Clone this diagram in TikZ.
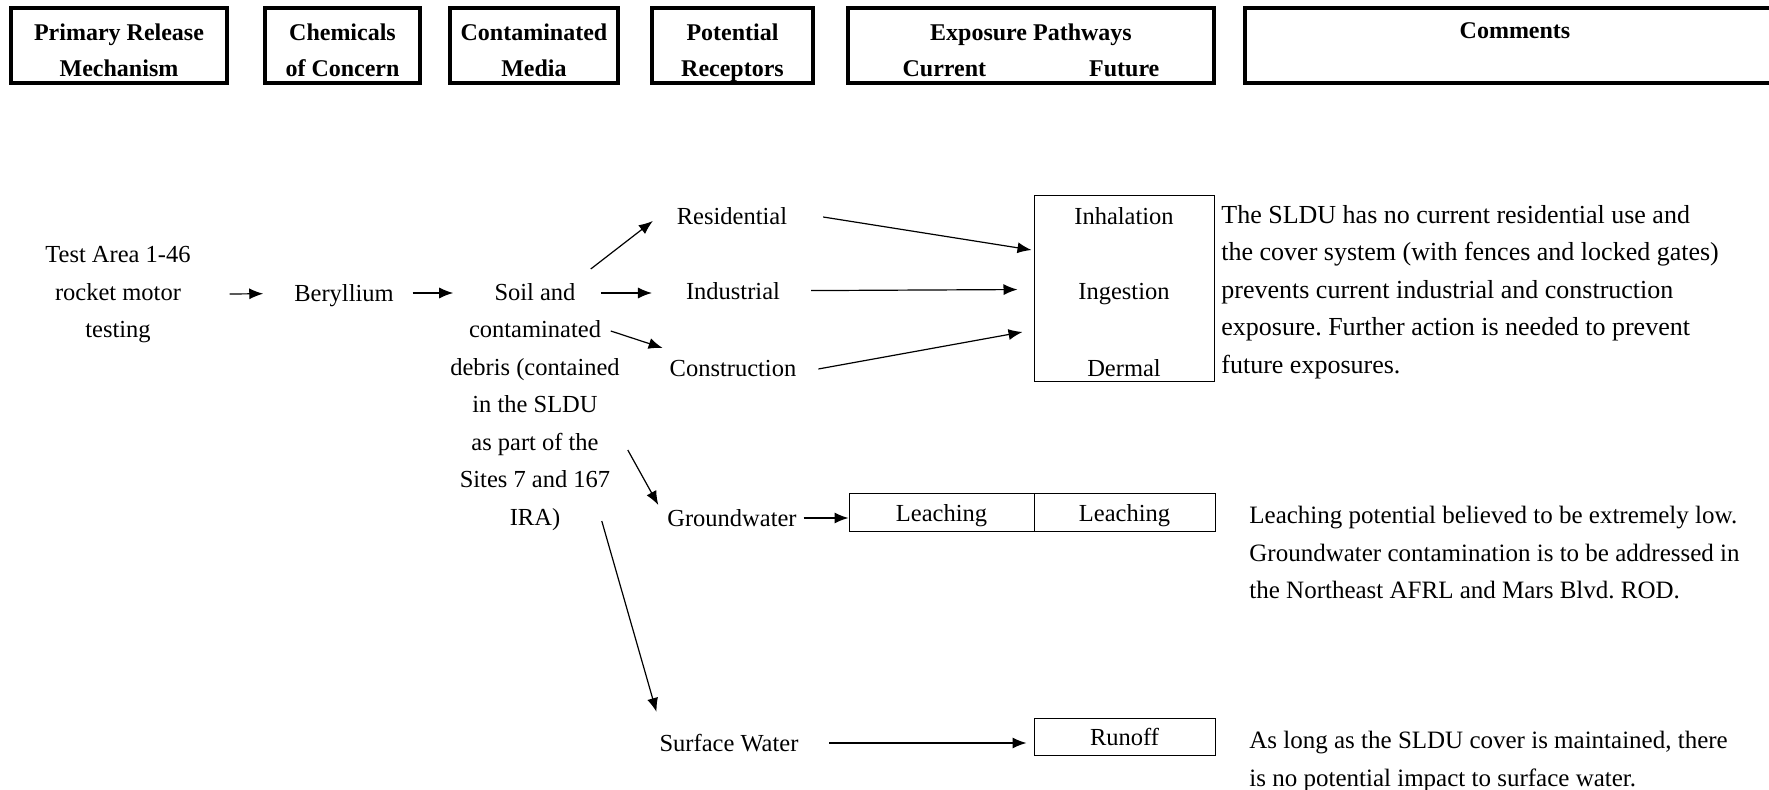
\documentclass[tikz,border=0pt]{standalone}
\usepackage{fontspec}
\setmainfont{Liberation Serif}
\usetikzlibrary{arrows.meta}
\frenchspacing

\newcommand{\diagfont}{\fontsize{12.25}{18.75}\selectfont}
\newcommand{\notefont}{\fontsize{12.5}{18.75}\selectfont}
\newcommand{\headfont}{\fontsize{12}{18}\selectfont\bfseries}
\newcommand{\hdtop}{\rule{0pt}{15.1pt}}
\newcommand{\hdbot}{\rule[-2.5pt]{0pt}{2.5pt}}

\tikzset{
  hdr/.style={draw, line width=1.6pt, font=\headfont, align=center, minimum height=37.5pt, inner sep=0pt},
  lbl/.style={font=\diagfont, text height=10.3pt, text depth=2pt},
  blk/.style={font=\diagfont, align=center},
  note/.style={font=\notefont, align=left, anchor=north west, inner sep=0pt},
  cell/.style={lbl, draw, line width=0.5pt, inner sep=0pt, minimum height=19pt},
  flow/.style={->, line width=0.6pt},
}

\begin{document}
\begin{tikzpicture}[x=0.5pt, y=-0.5pt, >={Latex[length=7pt,width=5.5pt]}]
\useasboundingbox (0,0) rectangle (1769,790);
% column headers
\node[hdr, minimum width=108pt] (h1) at (119,45.5) {\hdtop Primary Release\\Mechanism\hdbot};
\node[hdr, minimum width=77.5pt] (h2) at (342.5,45.5) {\hdtop Chemicals\\of Concern\hdbot};
\node[hdr, minimum width=84pt] (h3) at (534,45.5) {\hdtop Contaminated\\Media\hdbot};
\node[hdr, minimum width=80.5pt] (h4) at (732.5,45.5) {\hdtop Potential\\Receptors\hdbot};
\node[hdr, minimum width=183pt] (h5) at (1031,45.5) {\hdtop Exposure Pathways\\Current\hspace{51.5pt}Future\hdbot};
\draw[line width=1.6pt] (1769,8) -| (1245,83) -- (1769,83);
\node[font=\headfont, anchor=base] (h6) at (1515,39) {Comments};

% release chain
\node[blk] (test) at (118,295) {Test Area 1-46\\rocket motor\\testing};
\node[lbl] (beryl) at (344,293) {Beryllium};
\node[blk, anchor=north] (soil) at (535,276) {Soil and\\contaminated\\debris (contained\\in the SLDU\\as part of the\\Sites 7 and 167\\IRA)};

% receptors
\node[lbl] (res) at (732,216) {Residential};
\node[lbl] (ind) at (733,291) {Industrial};
\node[lbl] (con) at (733,368) {Construction};
\node[lbl] (gw) at (732,518) {Groundwater};
\node[lbl] (sw) at (729,743) {Surface Water};

% exposure pathways
\node[draw, line width=0.5pt, minimum width=90pt, minimum height=93pt] (expo) at (1124,289) {};
\node[lbl] (inh) at (1124,216) {Inhalation};
\node[lbl] (ing) at (1124,291) {Ingestion};
\node[lbl] (der) at (1124,368) {Dermal};
\node[cell, minimum width=92.5pt] (leachA) at (941.5,513) {Leaching};
\node[cell, minimum width=90.5pt] (leachB) at (1124.5,513) {Leaching};
\node[cell, minimum width=90.5pt, minimum height=18.5pt] (runoff) at (1124.5,737.5) {Runoff};

% comments
\node[note, font=\fontsize{13}{18.75}\selectfont] (c1) at (1221,205) {The SLDU has no current residential use and\\the cover system (with fences and locked gates)\\prevents current industrial and construction\\exposure. Further action is needed to prevent\\future exposures.};
\node[note] (c2) at (1249,506) {Leaching potential believed to be extremely low.\\Groundwater contamination is to be addressed in\\the Northeast AFRL and Mars Blvd. ROD.};
\node[note] (c3) at (1249,731) {As long as the SLDU cover is maintained, there\\is no potential impact to surface water.};

% arrows
\draw[flow, shorten <=16pt, shorten >=12pt] (test) -- (beryl);
\draw[flow, shorten <=6pt] (beryl) -- ([shift={(10,17)}]soil.north west);
\draw[flow] ([shift={(-36,-7)}]soil.north east) -- ([shift={(-17,5)}]res.west);
\draw[flow] ([shift={(-26,17)}]soil.north east) -- ([shift={(-27,2)}]ind.west);
\draw[flow] ([shift={(-16,55)}]soil.north east) -- ([shift={(0,-20)}]con.west);
\draw[flow] ([shift={(1,174)}]soil.north east) -- ([shift={(-2,-13)}]gw.west);
\draw[flow] ([shift={(-25,245)}]soil.north east) -- ([shift={(4,-31)}]sw.west);
\draw[flow] ([shift={(29,1)}]res.east) -- ([shift={(-2,-39)}]expo.west);
\draw[flow, shorten <=12pt, shorten >=8pt] (ind) -- (expo);
\draw[flow] ([shift={(15,1)}]con.east) -- ([shift={(-11,43)}]expo.west);
\draw[flow] (gw) -- (gw -| leachA.west);
\draw[flow, shorten <=12pt, shorten >=3.5pt] (sw) -- (sw -| runoff.west);
\end{tikzpicture}
\end{document}
